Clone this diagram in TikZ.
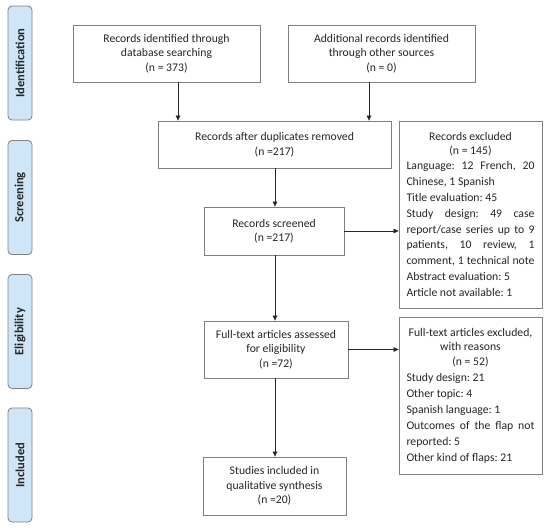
\documentclass[tikz,border=0pt]{standalone}
\usepackage{fontspec}
\setmainfont{Carlito}
\usetikzlibrary{arrows.meta}
\definecolor{sidefill}{HTML}{CFE6F8}
\definecolor{edgegray}{HTML}{808080}
\definecolor{txtgray}{HTML}{262626}
\newlength\bw
\setlength\bw{128pt}
\newcommand\Lc[1]{\hbox to\bw{\hfil #1\hfil}}
\newcommand\Lj[1]{\hbox to\bw{#1}}
\newcommand\Ll[1]{\hbox to\bw{#1\hfil}}
\frenchspacing
\begin{document}
\begin{tikzpicture}[x=1pt,y=-1pt,
  font=\fontsize{11.7}{14.5}\selectfont,
  box/.style={draw=edgegray, line width=0.8pt, fill=white, align=center, inner sep=0pt, text=txtgray},
  listbox/.style={draw=edgegray, line width=0.8pt, fill=white, inner sep=0pt, text=txtgray},
  sidelab/.style={draw=edgegray, line width=0.8pt, fill=sidefill, rounded corners=4pt, minimum width=114pt, minimum height=24pt, inner sep=0pt, rotate=90, text=txtgray, font=\fontsize{12.5}{14}\selectfont\bfseries},
  arr/.style={-{Triangle[length=5pt,width=4.5pt]}, draw=black!85, line width=0.6pt}]
\useasboundingbox (0,0) rectangle (550,528);
\fill[white] (0,0) rectangle (550,528);

% side labels
\node[sidelab] (sid) at (20,63) {Identification};
\node[sidelab] (ssc) at (20,197.5) {Screening};
\node[sidelab] (sel) at (20,331.5) {Eligibility};
\node[sidelab] (sin) at (20,465) {Included};

% boxes
\node[box, minimum width=187pt, minimum height=57pt] (b1) at (166.5,53.5) {Records identified through\\database searching\\(n = 373)};
\node[box, minimum width=187pt, minimum height=57pt] (b2) at (381.5,53.5) {Additional records identified\\through other sources\\(n = 0)};
\node[box, minimum width=233pt, minimum height=47pt] (dup) at (274.5,144.5) {Records after duplicates removed\\(n =217)};
\node[box, minimum width=140pt, minimum height=48pt] (scr) at (274,231) {Records screened\\(n =217)};
\node[box, minimum width=144pt, minimum height=57pt] (ft) at (276,349.5) {Full-text articles assessed\\for eligibility\\(n =72)};
\node[box, minimum width=143pt, minimum height=58pt] (inc) at (274.5,486) {Studies included in\\qualitative synthesis\\(n =20)};

\node[listbox, minimum width=143pt, minimum height=187pt] (exc) at (470.5,214.5) {\vbox{%
  \baselineskip=13.5pt
  \Lc{Records excluded}
  \Lc{(n = 145)}
  \baselineskip=15.8pt
  \Lj{Language: 12 French, 20}
  \Ll{Chinese, 1 Spanish}
  \Ll{Title evaluation: 45}
  \Lj{Study design: 49 case}
  \Lj{report/case series up to 9}
  \Lj{patients, 10 review, 1}
  \Lj{comment, 1 technical note}
  \Ll{Abstract evaluation: 5}
  \Ll{Article not available: 1}}};

\node[listbox, minimum width=143pt, minimum height=157pt] (ftx) at (470.5,395.5) {\vbox{%
  \baselineskip=14.5pt
  \Lc{Full-text articles excluded,}
  \Lc{with reasons}
  \Lc{(n = 52)}
  \baselineskip=16pt
  \Ll{Study design: 21}
  \Ll{Other topic: 4}
  \Ll{Spanish language: 1}
  \Lj{Outcomes of the flap not}
  \Ll{reported: 5}
  \Ll{Other kind of flaps: 21}}};

% connectors
\coordinate (c1) at (178,0);
\coordinate (c2) at (369,0);
\coordinate (cm) at (275,0);
\draw[arr] (b1.south -| c1) -- (dup.north -| c1);
\draw[arr] (b2.south -| c2) -- (dup.north -| c2);
\draw[arr] (dup.south -| cm) -- (scr.north -| cm);
\draw[arr] (scr.south -| cm) -- (ft.north -| cm);
\draw[arr] (ft.south -| cm) -- (inc.north -| cm);
\draw[arr] (scr.east) -- (exc.west |- scr.east);
\draw[arr] (ft.east) -- (ftx.west |- ft.east);
\end{tikzpicture}
\end{document}
